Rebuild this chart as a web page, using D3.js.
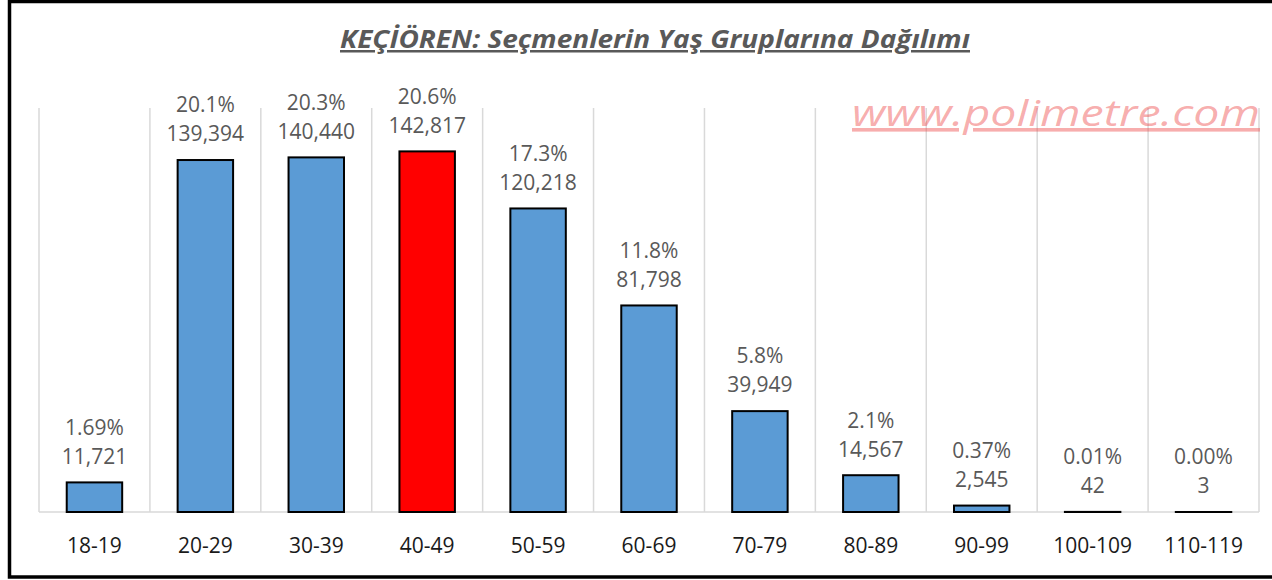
<!DOCTYPE html>
<html>
<head>
<meta charset="utf-8">
<script src="https://cdn.jsdelivr.net/npm/d3@7"></script>
<style>
  body { margin: 0; background: #fff; }
  svg { display: block; }
</style>
</head>
<body>
<svg id="chart"></svg>
<script>
// age groups and voter counts
const ageGroups = ["18-19", "20-29", "30-39", "40-49", "50-59", "60-69", "70-79", "80-89", "90-99", "100-109", "110-119"];
const voters = [11721, 139394, 140440, 142817, 120218, 81798, 39949, 14567, 2545, 42, 3];
const shares = ["1.69%", "20.1%", "20.3%", "20.6%", "17.3%", "11.8%", "5.8%", "2.1%", "0.37%", "0.01%", "0.00%"];
const highlight = "40-49";
const yMax = 160000;

const width = 1272, height = 580;
const plot = { left: 39, right: 1259, top: 108, bottom: 512 };

const svg = d3.select("#chart").attr("width", width).attr("height", height);

// outer frame
svg.append("rect")
  .attr("x", 9.5).attr("y", 1.5)
  .attr("width", 1275).attr("height", 575.5)
  .attr("fill", "#fff").attr("stroke", "#000").attr("stroke-width", 3.5);

const xBand = d3.scaleBand().domain(ageGroups).range([plot.left, plot.right]);
const x = d3.scaleBand().domain(ageGroups).range([plot.left, plot.right])
  .paddingInner(0.5).paddingOuter(0.25);
const y = d3.scaleLinear().domain([0, yMax]).range([plot.bottom, plot.top]);

// vertical gridlines at category boundaries
const bounds = ageGroups.map(d => xBand(d)).concat([plot.right]);
svg.append("g").selectAll("line")
  .data(bounds)
  .enter().append("line")
  .attr("x1", d => d).attr("x2", d => d)
  .attr("y1", plot.top).attr("y2", plot.bottom)
  .attr("stroke", "#d9d9d9").attr("stroke-width", 1.5);

// watermark
svg.append("text")
  .attr("x", 852).attr("y", 126)
  .attr("textLength", 408).attr("lengthAdjust", "spacingAndGlyphs")
  .attr("font-family", "Open Sans").attr("font-style", "italic")
  .attr("font-size", 36)
  .attr("fill", "#ee4a4a").attr("fill-opacity", 0.45)
  .attr("text-decoration", "underline")
  .text("www.polimetre.com");

// baseline
svg.append("line")
  .attr("x1", plot.left).attr("x2", plot.right)
  .attr("y1", plot.bottom).attr("y2", plot.bottom)
  .attr("stroke", "#d9d9d9").attr("stroke-width", 1.5);

// bars
svg.append("g").selectAll("rect")
  .data(ageGroups)
  .enter().append("rect")
  .attr("x", d => x(d))
  .attr("y", (d, i) => y(voters[i]))
  .attr("width", x.bandwidth())
  .attr("height", (d, i) => y(0) - y(voters[i]))
  .attr("fill", d => d === highlight ? "#ff0000" : "#5b9bd5")
  .attr("stroke", "#000").attr("stroke-width", 2);

// value labels
const labels = svg.append("g")
  .attr("font-family", "Open Sans").attr("font-size", 21)
  .attr("fill", "#595959").attr("text-anchor", "middle");

labels.selectAll(".count")
  .data(ageGroups)
  .enter().append("text")
  .attr("class", "count")
  .attr("x", d => x(d) + x.bandwidth() / 2)
  .attr("y", (d, i) => y(voters[i]) - 26)
  .attr("dy", "0.35em")
  .text((d, i) => d3.format(",")(voters[i]));

labels.selectAll(".share")
  .data(ageGroups)
  .enter().append("text")
  .attr("class", "share")
  .attr("x", d => x(d) + x.bandwidth() / 2)
  .attr("y", (d, i) => y(voters[i]) - 55)
  .attr("dy", "0.35em")
  .text((d, i) => shares[i]);

// category axis
const xAxis = svg.append("g")
  .attr("transform", `translate(0,${plot.bottom})`)
  .call(d3.axisBottom(xBand).tickSize(0).tickPadding(26));
xAxis.select(".domain").remove();
xAxis.selectAll("text")
  .attr("font-family", "Open Sans").attr("font-size", 21)
  .attr("fill", "#1a1a1a");

// title
svg.append("text")
  .attr("x", 655).attr("y", 48)
  .attr("text-anchor", "middle")
  .attr("textLength", 630).attr("lengthAdjust", "spacingAndGlyphs")
  .attr("font-family", "Open Sans").attr("font-weight", "bold").attr("font-style", "italic")
  .attr("font-size", 25)
  .attr("fill", "#595959")
  .attr("text-decoration", "underline")
  .text("KEÇİÖREN: Seçmenlerin Yaş Gruplarına Dağılımı");
</script>
</body>
</html>
